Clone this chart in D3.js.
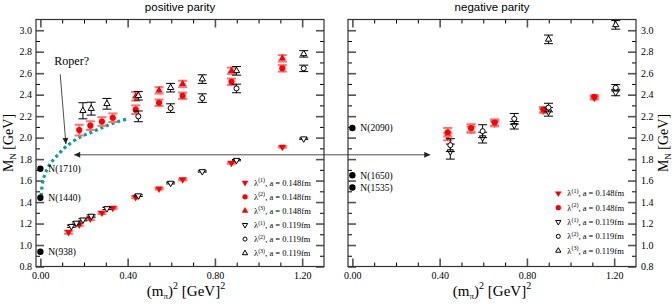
<!DOCTYPE html>
<html>
<head>
<meta charset="utf-8">
<script src="https://cdn.jsdelivr.net/npm/d3@7"></script>
<style>
  body { margin: 0; background: #fff; }
  text { font-family: "Liberation Serif", "Times New Roman", serif; }
</style>
</head>
<body>
<div id="chart"></div>
<script>
// tick values
var xTicksMajor = [0, 0.4, 0.8, 1.2];
var xTicksMinor = [0.1, 0.2, 0.3, 0.5, 0.6, 0.7, 0.9, 1.0, 1.1];
var yTicksMajor = [0.8, 1.0, 1.2, 1.4, 1.6, 1.8, 2.0, 2.2, 2.4, 2.6, 2.8, 3.0];
var yTicksMinor = [0.9, 1.1, 1.3, 1.5, 1.7, 1.9, 2.1, 2.3, 2.5, 2.7, 2.9];

// positive parity series: [m_pi^2, M_N, error]
var posRed1 = [[0.129, 1.12, 0.015], [0.178, 1.19, 0.012], [0.229, 1.245, 0.012], [0.282, 1.30, 0.01], [0.332, 1.345, 0.01],
  [0.437, 1.445, 0.01], [0.544, 1.525, 0.008], [0.652, 1.61, 0.008], [0.876, 1.765, 0.008], [1.109, 1.913, 0.006]];
var posRed2 = [[0.178, 2.07, 0.05], [0.229, 2.112, 0.04], [0.282, 2.15, 0.04], [0.332, 2.185, 0.04],
  [0.437, 2.26, 0.04], [0.544, 2.325, 0.03], [0.652, 2.39, 0.03], [0.876, 2.52, 0.03], [1.109, 2.645, 0.03]];
var posRed3 = [[0.437, 2.385, 0.04], [0.544, 2.44, 0.03], [0.652, 2.50, 0.03], [0.876, 2.622, 0.03], [1.109, 2.738, 0.03]];
var posBlk1 = [[0.142, 1.175, 0.01], [0.165, 1.205, 0.01], [0.195, 1.235, 0.01], [0.233, 1.27, 0.01], [0.305, 1.34, 0.01],
  [0.449, 1.46, 0.008], [0.597, 1.577, 0.008], [0.742, 1.685, 0.006], [0.899, 1.79, 0.006], [1.207, 1.99, 0.006]];
var posBlk2 = [[0.449, 2.198, 0.05], [0.597, 2.275, 0.04], [0.742, 2.368, 0.04], [0.899, 2.458, 0.04], [1.207, 2.645, 0.03]];
var posBlk3 = [[0.195, 2.25, 0.075], [0.233, 2.27, 0.06], [0.305, 2.315, 0.05], [0.449, 2.39, 0.04], [0.597, 2.465, 0.04],
  [0.742, 2.545, 0.04], [0.899, 2.622, 0.04], [1.207, 2.78, 0.03]];

// negative parity series
var negRed1 = [[0.437, 2.01, 0.035], [0.544, 2.075, 0.03], [0.652, 2.13, 0.025], [0.876, 2.25, 0.02], [1.109, 2.37, 0.015]];
var negRed2 = [[0.437, 2.05, 0.04], [0.544, 2.09, 0.035], [0.652, 2.14, 0.03], [0.876, 2.26, 0.025], [1.109, 2.38, 0.015]];
var negBlk1 = [[0.449, 1.87, 0.07], [0.597, 2.0, 0.05], [0.742, 2.115, 0.035], [0.899, 2.24, 0.04], [1.207, 2.42, 0.03]];
var negBlk2 = [[0.449, 1.93, 0.06], [0.597, 2.06, 0.06], [0.742, 2.175, 0.05], [0.899, 2.28, 0.04], [1.207, 2.465, 0.03]];
var negBlk3 = [[0.899, 2.915, 0.04], [1.207, 3.05, 0.04]];

// physical states at m_pi^2 = 0
var posPhysMass = [0.938, 1.44, 1.71];
var posPhysName = ['N(938)', 'N(1440)', 'N(1710)'];
var negPhysMass = [1.535, 1.65, 2.09];
var negPhysName = ['N(1535)', 'N(1650)', 'N(2090)'];

// "Roper?" dotted curve
var roperCurve = [[0.004, 1.46], [0.01, 1.58], [0.025, 1.68], [0.05, 1.77], [0.085, 1.85], [0.12, 1.92],
  [0.178, 2.0], [0.229, 2.045], [0.28, 2.09], [0.335, 2.135], [0.405, 2.178]];

var width = 672, height = 304;
var yTop = 19.5, yBot = 266.5;

var svg = d3.select('#chart').append('svg')
  .attr('width', width)
  .attr('height', height);

var defs = svg.append('defs');
defs.append('marker')
  .attr('id', 'arrow')
  .attr('viewBox', '0 0 10 10')
  .attr('refX', 10)
  .attr('refY', 5)
  .attr('markerWidth', 9)
  .attr('markerHeight', 6)
  .attr('markerUnits', 'userSpaceOnUse')
  .attr('orient', 'auto-start-reverse')
  .append('path')
  .attr('d', 'M0,0 L10,5 L0,10 z')
  .attr('fill', '#222');

var y = d3.scaleLinear().domain([0.8, 3.1]).range([yBot, yTop]);

var red = '#ff0000';
var redBar = '#ff7070';

function symbolPath(shape, size) {
  var t = shape === 'circle' ? d3.symbolCircle : d3.symbolTriangle;
  return d3.symbol().type(t).size(size)();
}

function drawSeries(g, x, data, shape, filled) {
  var color = filled ? red : '#000';
  var bars = g.append('g')
    .attr('stroke', filled ? redBar : '#000')
    .attr('stroke-width', filled ? 2 : 1);
  data.forEach(function (d) {
    var cx = x(d[0]);
    var lo = y(d[1] - d[2]);
    var hi = y(d[1] + d[2]);
    bars.append('line').attr('x1', cx).attr('x2', cx).attr('y1', lo).attr('y2', hi);
    bars.append('line').attr('x1', cx - 4.5).attr('x2', cx + 4.5).attr('y1', lo).attr('y2', lo);
    bars.append('line').attr('x1', cx - 4.5).attr('x2', cx + 4.5).attr('y1', hi).attr('y2', hi);
  });
  g.append('g').selectAll('path')
    .data(data)
    .enter()
    .append('path')
    .attr('d', symbolPath(shape === 'circle' ? 'circle' : 'tri', filled ? (shape === 'circle' ? 30 : 24) : (shape === 'circle' ? 20 : 17)))
    .attr('transform', function (d) {
      return 'translate(' + x(d[0]) + ',' + y(d[1]) + ')' + (shape === 'down' ? ' rotate(180)' : '');
    })
    .attr('fill', filled ? color : '#fff')
    .attr('stroke', color)
    .attr('stroke-width', filled ? 0 : 1);
}

function drawLegend(g, x0, y0, dy, items) {
  items.forEach(function (it, i) {
    var yy = y0 + i * dy;
    var filled = it[1];
    var shape = it[0];
    g.append('path')
      .attr('d', symbolPath(shape === 'circle' ? 'circle' : 'tri', filled ? (shape === 'circle' ? 22 : 19) : (shape === 'circle' ? 13 : 12)))
      .attr('transform', 'translate(' + x0 + ',' + yy + ')' + (shape === 'down' ? ' rotate(180)' : ''))
      .attr('fill', filled ? red : '#fff')
      .attr('stroke', filled ? 'none' : '#000')
      .attr('stroke-width', 1);
    var t = g.append('text')
      .attr('x', x0 + 9)
      .attr('y', yy + 3)
      .attr('font-size', 8.5);
    t.append('tspan').text('λ');
    t.append('tspan').attr('font-size', 6).attr('dy', -3.5).text('(' + it[2] + ')');
    t.append('tspan').attr('dy', 3.5).text(', a = ' + it[3] + 'fm');
  });
}

function drawAxes(g, x, x0, x1, labelSide) {
  function style(sel) {
    sel.select('.domain').remove();
    sel.attr('font-family', '"Liberation Serif", serif').attr('font-size', 10);
  }
  var major = {stroke: '#555', w: 1.6};
  // bottom
  g.append('g').attr('transform', 'translate(0,' + yBot + ')')
    .call(d3.axisBottom(x).tickValues(xTicksMajor).tickFormat(d3.format('.2f')).tickSize(-8).tickPadding(5))
    .call(style)
    .selectAll('line').attr('stroke', major.stroke).attr('stroke-width', major.w);
  g.append('g').attr('transform', 'translate(0,' + yBot + ')')
    .call(d3.axisBottom(x).tickValues(xTicksMinor).tickFormat('').tickSize(-4))
    .call(style);
  // top
  g.append('g').attr('transform', 'translate(0,' + yTop + ')')
    .call(d3.axisTop(x).tickValues(xTicksMajor).tickFormat('').tickSize(-8))
    .call(style)
    .selectAll('line').attr('stroke', major.stroke).attr('stroke-width', major.w);
  g.append('g').attr('transform', 'translate(0,' + yTop + ')')
    .call(d3.axisTop(x).tickValues(xTicksMinor).tickFormat('').tickSize(-4))
    .call(style);
  // left / right
  var leftAxis = d3.axisLeft(y).tickValues(yTicksMajor).tickSize(-8).tickPadding(4)
    .tickFormat(labelSide === 'left' ? d3.format('.1f') : '');
  var rightAxis = d3.axisRight(y).tickValues(yTicksMajor).tickSize(-8).tickPadding(5)
    .tickFormat(labelSide === 'right' ? d3.format('.1f') : '');
  g.append('g').attr('transform', 'translate(' + x0 + ',0)').call(leftAxis).call(style)
    .selectAll('line').attr('stroke', major.stroke).attr('stroke-width', major.w);
  g.append('g').attr('transform', 'translate(' + x1 + ',0)').call(rightAxis).call(style)
    .selectAll('line').attr('stroke', major.stroke).attr('stroke-width', major.w);
  g.append('g').attr('transform', 'translate(' + x0 + ',0)')
    .call(d3.axisLeft(y).tickValues(yTicksMinor).tickFormat('').tickSize(-4)).call(style);
  g.append('g').attr('transform', 'translate(' + x1 + ',0)')
    .call(d3.axisRight(y).tickValues(yTicksMinor).tickFormat('').tickSize(-4)).call(style);

  g.append('rect')
    .attr('x', x0).attr('y', yTop)
    .attr('width', x1 - x0).attr('height', yBot - yTop)
    .attr('fill', 'none')
    .attr('stroke', '#333')
    .attr('stroke-width', 1.2);
}

function xLabel(g, cx) {
  var t = g.append('text').attr('x', cx).attr('y', 296).attr('text-anchor', 'middle').attr('font-size', 15);
  t.append('tspan').text('(m');
  t.append('tspan').attr('font-size', 9).attr('dy', 3).text('π');
  t.append('tspan').attr('dy', -3).text(')');
  t.append('tspan').attr('font-size', 10).attr('dy', -7).text('2');
  t.append('tspan').attr('dy', 7).text(' [GeV]');
  t.append('tspan').attr('font-size', 10).attr('dy', -7).text('2');
}

function yLabel(g, bx, cy) {
  var t = g.append('text')
    .attr('transform', 'translate(' + bx + ',' + cy + ') rotate(-90)')
    .attr('text-anchor', 'middle')
    .attr('font-size', 14);
  t.append('tspan').text('M');
  t.append('tspan').attr('font-size', 9).attr('dy', 3).text('N');
  t.append('tspan').attr('dy', -3).text(' [GeV]');
}

function drawPhys(g, x, masses, names) {
  masses.forEach(function (m, i) {
    g.append('circle').attr('cx', x(0)).attr('cy', y(m)).attr('r', 3.2).attr('fill', '#000');
    g.append('text').attr('x', x(0) + 8).attr('y', y(m) + 3.5).attr('font-size', 9.5).text(names[i]);
  });
}

// ---- positive parity panel
var pos = {x0: 36, x1: 324};
var xPos = d3.scaleLinear().domain([-0.02, 1.30]).range([pos.x0, pos.x1]);
var gPos = svg.append('g');

svg.append('text')
  .attr('x', (pos.x0 + pos.x1) / 2).attr('y', 11)
  .attr('text-anchor', 'middle')
  .style('font-family', '"Liberation Sans", Arial, sans-serif')
  .attr('font-size', 11.5)
  .text('positive parity');

drawAxes(gPos, xPos, pos.x0, pos.x1, 'left');

gPos.append('path')
  .datum(roperCurve)
  .attr('d', d3.line().x(function (d) { return xPos(d[0]); }).y(function (d) { return y(d[1]); }).curve(d3.curveCatmullRom))
  .attr('fill', 'none')
  .attr('stroke', '#129b9b')
  .attr('stroke-width', 3.2)
  .attr('stroke-dasharray', '3 3');

drawSeries(gPos, xPos, posRed1, 'down', true);
drawSeries(gPos, xPos, posRed2, 'circle', true);
drawSeries(gPos, xPos, posRed3, 'up', true);
drawSeries(gPos, xPos, posBlk1, 'down', false);
drawSeries(gPos, xPos, posBlk2, 'circle', false);
drawSeries(gPos, xPos, posBlk3, 'up', false);
drawPhys(gPos, xPos, posPhysMass, posPhysName);

// Roper? annotation
gPos.append('text').attr('x', xPos(0.064)).attr('y', y(2.68)).attr('font-size', 12).text('Roper?');
gPos.append('line')
  .attr('x1', xPos(0.091)).attr('y1', y(2.59))
  .attr('x2', xPos(0.117)).attr('y2', y(1.94))
  .attr('stroke', '#222').attr('stroke-width', 0.8)
  .attr('marker-end', 'url(#arrow)');

drawLegend(gPos, 245, 182.7, 14.1, [
  ['down', true, 1, '0.148'], ['circle', true, 2, '0.148'], ['up', true, 3, '0.148'],
  ['down', false, 1, '0.119'], ['circle', false, 2, '0.119'], ['up', false, 3, '0.119']
]);

xLabel(gPos, 186);
yLabel(gPos, 13, 143);

// ---- negative parity panel
var neg = {x0: 348, x1: 636};
var xNeg = d3.scaleLinear().domain([-0.02, 1.30]).range([neg.x0, neg.x1]);
var gNeg = svg.append('g');

svg.append('text')
  .attr('x', (neg.x0 + neg.x1) / 2).attr('y', 11)
  .attr('text-anchor', 'middle')
  .style('font-family', '"Liberation Sans", Arial, sans-serif')
  .attr('font-size', 11.5)
  .text('negative parity');

drawAxes(gNeg, xNeg, neg.x0, neg.x1, 'right');

drawSeries(gNeg, xNeg, negRed1, 'down', true);
drawSeries(gNeg, xNeg, negRed2, 'circle', true);
drawSeries(gNeg, xNeg, negBlk1, 'down', false);
drawSeries(gNeg, xNeg, negBlk2, 'circle', false);
drawSeries(gNeg, xNeg, negBlk3, 'up', false);
drawPhys(gNeg, xNeg, negPhysMass, negPhysName);

drawLegend(gNeg, 558.3, 193.3, 14.35, [
  ['down', true, 1, '0.148'], ['circle', true, 2, '0.148'],
  ['down', false, 1, '0.119'], ['circle', false, 2, '0.119'], ['up', false, 3, '0.119']
]);

xLabel(gNeg, 492);
yLabel(gNeg, 668, 143);

// double arrow spanning both panels
svg.append('line')
  .attr('x1', xPos(0.155)).attr('y1', y(1.84))
  .attr('x2', xNeg(0.357)).attr('y2', y(1.84))
  .attr('stroke', '#222').attr('stroke-width', 0.8)
  .attr('marker-start', 'url(#arrow)')
  .attr('marker-end', 'url(#arrow)');
</script>
</body>
</html>
